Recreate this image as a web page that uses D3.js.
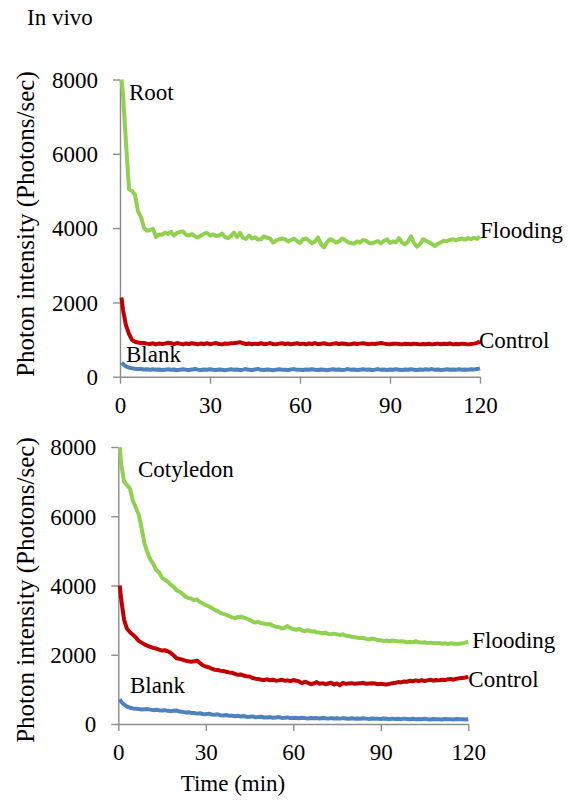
<!DOCTYPE html>
<html>
<head>
<meta charset="utf-8">
<script src="https://cdn.jsdelivr.net/npm/d3@7"></script>
<style>
  body { margin: 0; background: #fff; }
  svg text { font-family: "Liberation Serif", "Times New Roman", serif; fill: #000; }
</style>
</head>
<body>
<div id="chart"></div>
<script>
// sampling times (min), shared by every series
const times = [0.5,1,2,3,4,5,6,7,8,9,10,11,12,13,14,15,16,17,18,19,20,
  21,22,23,24,25,26,27,28,29,30,31,32,33,34,35,36,37,38,39,40,
  41,42,43,44,45,46,47,48,49,50,51,52,53,54,55,56,57,58,59,60,
  61,62,63,64,65,66,67,68,69,70,71,72,73,74,75,76,77,78,79,80,
  81,82,83,84,85,86,87,88,89,90,91,92,93,94,95,96,97,98,99,100,
  101,102,103,104,105,106,107,108,109,110,111,112,113,114,115,116,117,118,119,120];

// Root
const rootFlooding = [8000,7600,6300,5050,5000,4900,4450,4300,4000,3930,3950,
  3980,3760,3830,3820,3880,3840,3900,3800,3870,3900,
  3910,3820,3800,3840,3780,3750,3800,3850,3870,3800,
  3830,3790,3800,3850,3760,3730,3790,3880,3760,3870,
  3740,3710,3800,3720,3750,3690,3700,3780,3740,3720,
  3610,3660,3700,3720,3700,3640,3680,3720,3650,3600,
  3700,3720,3660,3590,3640,3750,3570,3480,3620,3700,
  3670,3610,3640,3720,3680,3620,3600,3580,3640,3610,
  3680,3660,3600,3590,3620,3650,3590,3660,3700,3600,
  3640,3620,3730,3610,3560,3640,3780,3600,3500,3570,
  3700,3660,3620,3570,3520,3580,3620,3660,3650,3680,
  3700,3670,3700,3720,3690,3730,3700,3740,3710,3770];
const rootControl = [2130,1800,1380,1150,990,940,920,910,905,890,880,
  900,870,895,880,890,915,900,875,905,890,
  870,895,880,900,885,870,895,880,900,875,
  890,905,880,870,895,885,900,905,915,930,
  900,880,895,870,890,880,900,875,885,905,
  880,870,890,900,880,895,870,885,900,880,
  890,870,895,880,905,875,885,900,880,870,
  890,900,880,895,885,870,880,895,880,890,
  900,885,875,890,880,895,905,890,880,875,
  885,890,880,870,885,880,875,890,880,870,
  880,875,885,870,880,890,875,885,880,895,
  870,880,875,890,880,870,880,890,910,945];
const rootBlank = [380,340,280,245,225,215,210,205,195,200,190,
  200,185,195,180,190,200,185,195,175,190,
  200,185,180,195,205,190,180,195,185,200,
  190,180,195,185,175,190,200,185,195,180,
  190,205,185,180,195,210,185,180,195,185,
  175,190,200,185,190,180,195,205,185,190,
  180,195,185,200,190,180,195,185,175,190,
  200,185,195,180,190,205,185,195,180,190,
  200,185,195,180,190,205,185,195,180,195,
  185,200,190,180,195,185,200,190,180,195,
  185,200,190,205,185,195,180,190,200,185,
  195,190,200,185,195,190,200,195,205,225];

// Cotyledon
const cotFlooding = [8000,7500,7000,6900,6800,6450,6250,6050,5650,5200,4950,
  4750,4620,4450,4380,4220,4160,4110,4020,3960,3860,
  3820,3760,3680,3640,3620,3580,3600,3520,3480,3430,
  3400,3350,3300,3260,3210,3180,3150,3120,3080,3060,
  3090,3100,3070,3040,3010,2960,2930,2950,2910,2900,
  2880,2890,2840,2810,2800,2760,2780,2830,2770,2740,
  2720,2750,2700,2680,2710,2670,2680,2650,2640,2620,
  2640,2600,2590,2610,2590,2570,2590,2550,2540,2520,
  2510,2490,2480,2490,2460,2440,2470,2450,2420,2420,
  2400,2410,2390,2410,2400,2380,2390,2380,2360,2370,
  2360,2390,2360,2350,2360,2340,2350,2340,2330,2340,
  2320,2330,2310,2330,2320,2310,2320,2330,2350,2380];
const cotControl = [4000,3600,3000,2750,2650,2580,2500,2400,2350,2300,2260,
  2230,2200,2180,2150,2120,2130,2100,2050,1980,1900,
  1880,1860,1830,1810,1800,1810,1830,1760,1690,1660,
  1640,1600,1570,1560,1540,1530,1510,1490,1480,1450,
  1420,1430,1400,1380,1370,1330,1310,1300,1280,1270,
  1290,1260,1280,1250,1260,1280,1250,1260,1240,1270,
  1250,1230,1180,1220,1190,1150,1170,1210,1160,1180,
  1150,1170,1190,1140,1170,1120,1190,1160,1170,1180,
  1160,1170,1180,1190,1160,1170,1180,1170,1150,1160,
  1150,1140,1160,1180,1190,1210,1200,1230,1220,1250,
  1230,1260,1240,1270,1240,1260,1280,1250,1270,1260,
  1280,1270,1290,1300,1280,1310,1320,1330,1340,1370];
const cotBlank = [720,640,560,500,470,450,440,430,420,425,430,
  415,400,410,395,390,400,380,370,380,390,
  360,350,335,340,320,315,300,310,290,285,
  300,275,265,280,255,245,260,235,240,225,
  240,215,230,205,210,220,195,200,210,185,
  190,200,180,190,200,175,180,190,170,180,
  175,165,180,170,160,175,165,170,160,175,
  165,155,170,160,165,155,170,160,150,165,
  155,160,150,165,155,145,160,150,155,145,
  160,150,140,155,145,150,140,155,145,135,
  150,140,145,135,150,140,130,145,135,140,
  130,145,135,140,130,145,135,140,130,135];

const yTicks = [0, 2000, 4000, 6000, 8000];
const xTicks = [0, 30, 60, 90, 120];
const colors = { Flooding: "#92D050", Control: "#C00000", Blank: "#4F81BD" };
const serif = "Liberation Serif";

const width = 570, height = 801;
const svg = d3.select("#chart").append("svg")
    .attr("width", width)
    .attr("height", height)
    .attr("font-family", serif);

const panels = [
  { name: "Root", x0: 120, x1: 480, y0: 376.7, y1: 79.5,
    series: [["Blank", rootBlank], ["Control", rootControl], ["Flooding", rootFlooding]],
    titleY: 224 },
  { name: "Cotyledon", x0: 118.3, x1: 468.3, y0: 724, y1: 447,
    series: [["Blank", cotBlank], ["Control", cotControl], ["Flooding", cotFlooding]],
    titleY: 590 }
];

svg.append("text")
    .attr("x", 27).attr("y", 25)
    .attr("font-family", serif)
    .attr("font-size", 23)
    .text("In vivo");

panels.forEach(function(p){
    const x = d3.scaleLinear().domain([0, 120]).range([p.x0, p.x1]);
    const y = d3.scaleLinear().domain([0, 8000]).range([p.y0, p.y1]);
    p.x = x; p.y = y;

    // axes
    const gy = svg.append("g")
        .attr("transform", `translate(${p.x0},0)`)
        .call(d3.axisLeft(y).tickValues(yTicks).tickFormat(d3.format("d"))
            .tickSize(7).tickSizeOuter(0).tickPadding(15));
    const gx = svg.append("g")
        .attr("transform", `translate(0,${p.y0})`)
        .call(d3.axisBottom(x).tickValues(xTicks).tickFormat(d3.format("d"))
            .tickSize(7).tickSizeOuter(0));
    [gx, gy].forEach(function(g){
        g.attr("font-family", serif).attr("font-size", 23);
        g.selectAll("path, line").attr("stroke", "#8c8c8c").attr("stroke-width", 1.4);
        g.selectAll("text").attr("fill", "#000");
    });
    gy.selectAll("text").attr("dy", "0.34em");
    gx.selectAll("text").attr("y", 36).attr("dy", null);

    // y title
    svg.append("text")
        .attr("transform", `translate(34,${p.titleY}) rotate(-90)`)
        .attr("text-anchor", "middle")
        .attr("font-family", serif)
        .attr("font-size", 25)
        .text("Photon intensity (Photons/sec)");

    // lines
    const line = d3.line()
        .x((d, i) => x(times[i]))
        .y(d => y(d));
    p.series.forEach(function(s){
        svg.append("path")
            .datum(s[1])
            .attr("fill", "none")
            .attr("stroke", colors[s[0]])
            .attr("stroke-width", 4)
            .attr("stroke-linejoin", "round")
            .attr("d", line);
    });
});

// series labels
const pTop = panels[0], pBot = panels[1];
const labels = [
  ["Root", 129, 100],
  ["Flooding", pTop.x(120), 238],
  ["Control", pTop.x(120) - 1, 348],
  ["Blank", 126, 362],
  ["Cotyledon", 138, 477],
  ["Flooding", pBot.x(120) + 4, 648],
  ["Control", pBot.x(120), 687],
  ["Blank", 130, 693]
];
labels.forEach(function(l){
    svg.append("text")
        .attr("x", l[1]).attr("y", l[2])
        .attr("font-family", serif)
        .attr("font-size", 23)
        .text(l[0]);
});

svg.append("text")
    .attr("x", 233).attr("y", 791)
    .attr("text-anchor", "middle")
    .attr("font-family", serif)
    .attr("font-size", 23)
    .text("Time (min)");
</script>
</body>
</html>
